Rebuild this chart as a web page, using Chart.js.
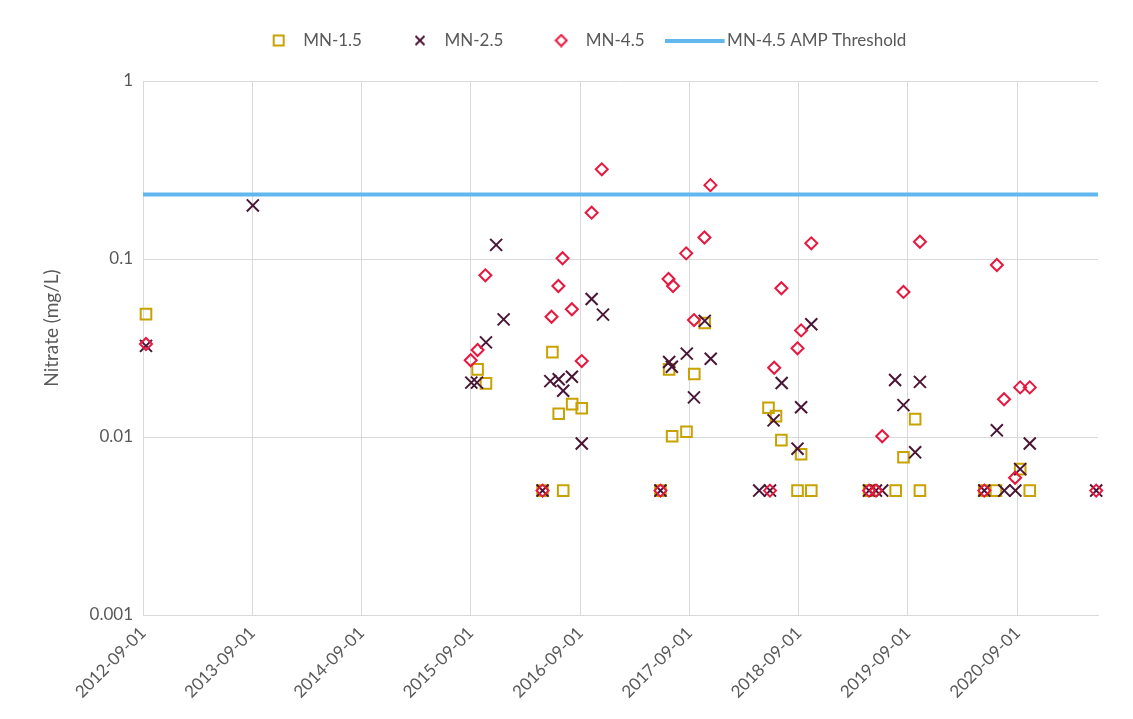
<!DOCTYPE html>
<html>
<head>
<meta charset="utf-8">
<script src="https://cdn.jsdelivr.net/npm/chart.js@4.4.0/dist/chart.umd.min.js"></script>
<style>
html, body { margin: 0; padding: 0; background: #fff; }
</style>
</head>
<body>
<canvas id="myChart" width="1133" height="719"></canvas>
<script>
// sample dates + nitrate values (mg/L)
const mn15Dates = ['2012-09-11','2015-09-24','2015-10-22','2016-04-28','2016-05-31','2016-06-21','2016-07-06','2016-08-05','2016-09-06',
  '2017-05-27','2017-06-25','2017-07-05','2017-08-22','2017-09-17','2017-10-22','2018-05-23','2018-06-17','2018-07-05','2018-08-28',
  '2018-09-09','2018-10-13','2019-04-24','2019-07-22','2019-08-17','2019-09-25','2019-10-11','2020-05-13','2020-06-21','2020-09-10','2020-10-12']
const mn15Values = [0.049,0.024,0.020,0.005,0.030,0.0135,0.005,0.0153,0.0145,
  0.005,0.024,0.0101,0.0107,0.0226,0.0437,0.0146,0.0131,0.0096,0.005,
  0.0080,0.005,0.005,0.005,0.0077,0.0126,0.005,0.005,0.005,0.0066,0.005]

const mn25Dates = ['2012-09-11','2013-09-03','2015-09-03','2015-09-22','2015-10-22','2015-11-25','2015-12-20','2016-04-28','2016-05-24',
  '2016-06-21','2016-07-06','2016-08-04','2016-09-06','2016-10-09','2016-11-16','2017-05-27','2017-06-25','2017-07-04','2017-08-23',
  '2017-09-16','2017-10-22','2017-11-11','2018-04-22','2018-05-28','2018-06-09','2018-07-06','2018-08-28','2018-09-09','2018-10-13',
  '2019-04-24','2019-05-17','2019-06-07','2019-07-20','2019-08-17','2019-09-25','2019-10-11','2020-05-13','2020-06-24','2020-07-19',
  '2020-08-25','2020-09-10','2020-10-12','2021-05-22']
const mn25Values = [0.0325,0.20,0.0202,0.0202,0.034,0.12,0.0458,0.005,0.0206,
  0.0211,0.0182,0.0218,0.0092,0.0596,0.0487,0.005,0.0264,0.0248,0.0294,
  0.0167,0.0449,0.0275,0.005,0.005,0.0124,0.0201,0.0086,0.0147,0.043,
  0.005,0.005,0.005,0.0209,0.0151,0.0082,0.0204,0.005,0.0109,0.005,
  0.005,0.0066,0.0092,0.005]

const mn45Dates = ['2012-09-11','2015-09-01','2015-09-24','2015-10-20','2016-04-28','2016-05-28','2016-06-20','2016-07-04','2016-08-04',
  '2016-09-06','2016-10-09','2016-11-12','2017-05-27','2017-06-23','2017-07-08','2017-08-21','2017-09-16','2017-10-21','2017-11-10',
  '2018-05-28','2018-06-11','2018-07-05','2018-08-28','2018-09-09','2018-10-13','2019-04-24','2019-05-17','2019-06-07','2019-08-17',
  '2019-10-11','2020-05-13','2020-06-24','2020-07-18','2020-08-24','2020-09-10','2020-10-12','2021-05-22']
const mn45Values = [0.0333,0.027,0.0308,0.081,0.005,0.0474,0.0705,0.101,0.0522,
  0.0267,0.182,0.319,0.005,0.0772,0.0705,0.1076,0.0454,0.132,0.26,
  0.005,0.0245,0.0685,0.0315,0.0397,0.1225,0.005,0.005,0.0101,0.0653,
  0.125,0.005,0.0925,0.0163,0.0059,0.019,0.019,0.005]

const thresholdValue = 0.23
const xStart = '2012-09-01'
const xEnd = '2021-05-28'
const xTickDates = ['2012-09-01','2013-09-01','2014-09-01','2015-09-01','2016-09-01','2017-09-01','2018-09-01','2019-09-01','2020-09-01']
const yTickValues = [0.001, 0.01, 0.1, 1]

const gold = '#C8A200'
const plum = '#4A1636'
const red = '#E8173F'
const blue = '#62B7EF'
const grid = '#D9D9D9'
const textCol = '#595959'
const font = 'Lato'

const pts = (dates, vals) => dates.map((d, i) => ({x: Date.parse(d), y: vals[i]}))

function icon(w, h, draw) {
    const c = document.createElement('canvas')
    c.width = w
    c.height = h
    draw(c.getContext('2d'))
    return c
}
// legend icons; the line one is wider and reaches further left than the box
const icons = [
    icon(14, 14, g => { g.strokeStyle = gold; g.lineWidth = 2; g.strokeRect(2, 2, 10, 10) }),
    icon(14, 14, g => { g.strokeStyle = plum; g.lineWidth = 2; g.beginPath(); g.moveTo(2.5, 2.5); g.lineTo(11.5, 11.5); g.moveTo(11.5, 2.5); g.lineTo(2.5, 11.5); g.stroke() }),
    icon(14, 14, g => { g.strokeStyle = red; g.lineWidth = 2; g.beginPath(); g.moveTo(7, 1.5); g.lineTo(12.5, 7); g.lineTo(7, 12.5); g.lineTo(1.5, 7); g.closePath(); g.stroke() }),
    icon(76, 4, g => { g.fillStyle = blue; g.fillRect(0, 0, 60, 4) })
]

const legendBox = {
    id: 'legendBox',
    beforeInit(chart) {
        const fit = chart.legend.fit
        chart.legend.fit = function () { fit.call(this); this.height = 81 }
    },
    beforeDraw(chart) {
        chart.legend.left = 36
        chart.legend.right = 1133
        chart.legend.top = -10
        chart.legend.bottom = 71
        // axis title sits a bit above the plot's middle in the original
        chart.scales.y.top = chart.chartArea.top - 40
    }
}

const data = {
    datasets: [{
        label: 'MN-1.5',
        data: pts(mn15Dates, mn15Values),
        pointStyle: 'rect',
        pointRadius: 7.5,
        borderWidth: 2,
        borderColor: gold,
        backgroundColor: 'rgba(0,0,0,0)',
        clip: false,
        order: 3
    }, {
        label: 'MN-2.5',
        data: pts(mn25Dates, mn25Values),
        pointStyle: 'crossRot',
        pointRadius: 8.5,
        borderWidth: 2,
        borderColor: plum,
        backgroundColor: 'rgba(0,0,0,0)',
        clip: false,
        order: 2
    }, {
        label: 'MN-4.5',
        data: pts(mn45Dates, mn45Values),
        pointStyle: 'rectRot',
        pointRadius: 6,
        borderWidth: 2,
        borderColor: red,
        backgroundColor: 'rgba(0,0,0,0)',
        clip: false,
        order: 1
    }, {
        label: 'MN-4.5 AMP Threshold',
        data: [{x: Date.parse(xStart), y: thresholdValue}, {x: Date.parse(xEnd), y: thresholdValue}],
        showLine: true,
        borderColor: blue,
        borderWidth: 4,
        pointRadius: 0,
        order: 0
    }]
}

const config = {
    type: 'scatter',
    data: data,
    plugins: [legendBox],
    options: {
        responsive: false,
        animation: false,
        layout: { padding: { left: 0, right: 35, top: 0, bottom: 0 } },
        plugins: {
            tooltip: { enabled: false },
            legend: {
                position: 'top',
                labels: {
                    usePointStyle: true,
                    pointStyleWidth: 32,
                    padding: 42,
                    color: textCol,
                    font: { family: font, size: 17 },
                    generateLabels: chart => [0, 1, 2, 3].map(i => ({
                        text: chart.data.datasets[i].label,
                        pointStyle: icons[i],
                        datasetIndex: i,
                        fontColor: textCol,
                        lineWidth: 1,
                        strokeStyle: 'rgba(0,0,0,0)',
                        fillStyle: 'rgba(0,0,0,0)',
                        hidden: false
                    }))
                }
            }
        },
        scales: {
            x: {
                type: 'linear',
                min: Date.parse(xStart),
                max: Date.parse(xEnd),
                afterBuildTicks: axis => { axis.ticks = xTickDates.map(d => ({value: Date.parse(d)})) },
                afterFit: axis => { axis.height = 104 },
                grid: { color: grid, drawTicks: false },
                border: { color: grid },
                ticks: {
                    autoSkip: false,
                    minRotation: 45,
                    maxRotation: 45,
                    padding: 8,
                    color: textCol,
                    font: { family: font, size: 17 },
                    callback: v => new Date(v).toISOString().slice(0, 10)
                }
            },
            y: {
                type: 'logarithmic',
                min: 0.001,
                max: 1,
                afterBuildTicks: axis => { axis.ticks = yTickValues.map(v => ({value: v})) },
                afterFit: axis => { axis.width = 143 },
                grid: { color: grid, drawTicks: false },
                border: { display: false },
                ticks: {
                    padding: 10,
                    color: textCol,
                    font: { family: font, size: 17 },
                    callback: v => String(v)
                },
                title: {
                    display: true,
                    text: 'Nitrate (mg/L)',
                    color: textCol,
                    font: { family: font, size: 19 },
                    padding: { top: 40, bottom: 0 }
                }
            }
        }
    }
}

let myChart = new Chart(document.getElementById('myChart'), config)
</script>
</body>
</html>
